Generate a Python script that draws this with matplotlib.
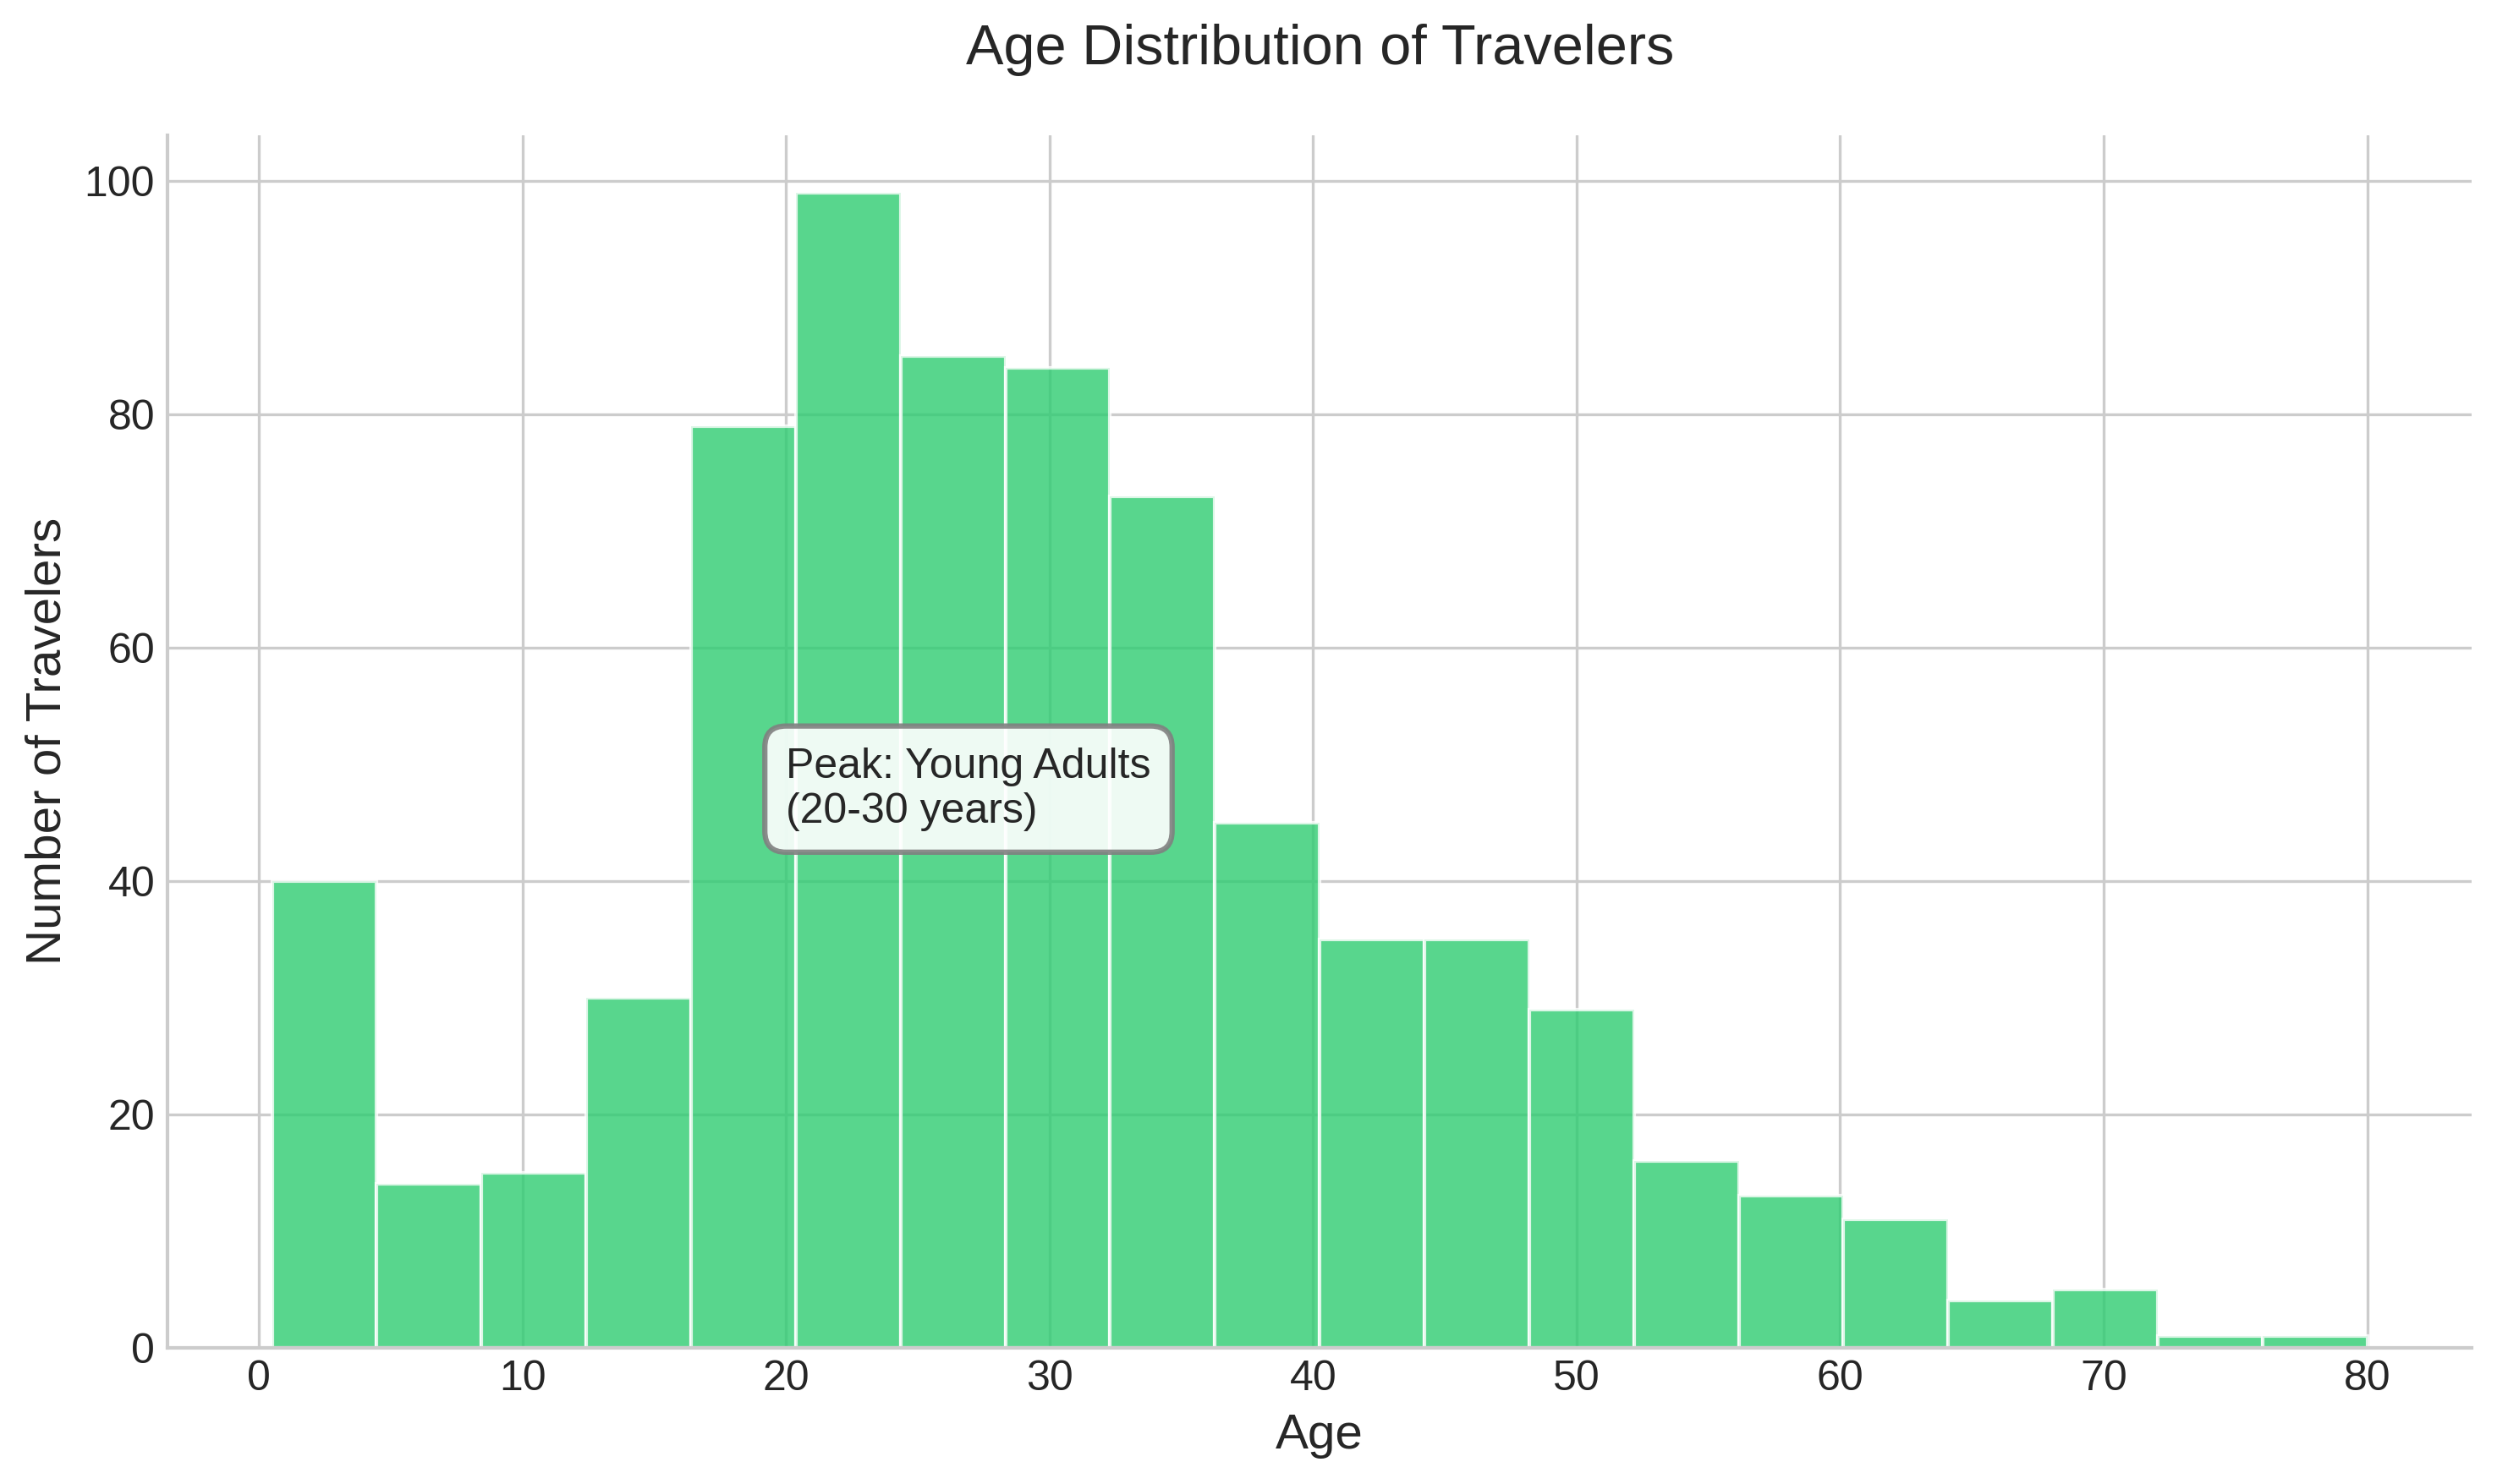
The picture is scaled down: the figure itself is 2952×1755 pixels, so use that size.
import matplotlib
matplotlib.use("Agg")
import matplotlib.pyplot as plt
import numpy as np

# histogram counts, 20 equal bins from 0.5 to 80
bin_edges = np.linspace(0.5, 80, 21)
counts = [40, 14, 15, 30, 79, 99, 85, 84, 73, 45,
          35, 35, 29, 16, 13, 11, 4, 5, 1, 1]

plt.style.use('seaborn-v0_8-whitegrid')
plt.rcParams['font.family'] = ['Liberation Sans', 'DejaVu Sans']

fig, ax = plt.subplots(figsize=(9.84, 5.85), dpi=300)

centers = (bin_edges[:-1] + bin_edges[1:]) / 2
ax.hist(centers, bins=bin_edges, weights=counts, color='#2ecc71',
        alpha=0.8, edgecolor='white', linewidth=1)

ax.set_title('Age Distribution of Travelers', fontsize=16, pad=20)
ax.set_xlabel('Age', fontsize=14)
ax.set_ylabel('Number of Travelers', fontsize=14)
ax.tick_params(labelsize=12)

ax.spines['top'].set_visible(False)
ax.spines['right'].set_visible(False)
for s in ['left', 'bottom']:
    ax.spines[s].set_visible(True)
    ax.spines[s].set_color('#cccccc')

ax.text(20, 45, 'Peak: Young Adults\n(20-30 years)', fontsize=12,
        bbox=dict(boxstyle='round,pad=0.5', facecolor='white',
                  alpha=0.9, edgecolor='gray', linewidth=1.5))

plt.subplots_adjust(left=0.067, right=0.990, top=0.909, bottom=0.092)
plt.savefig('out.png', dpi=300)
